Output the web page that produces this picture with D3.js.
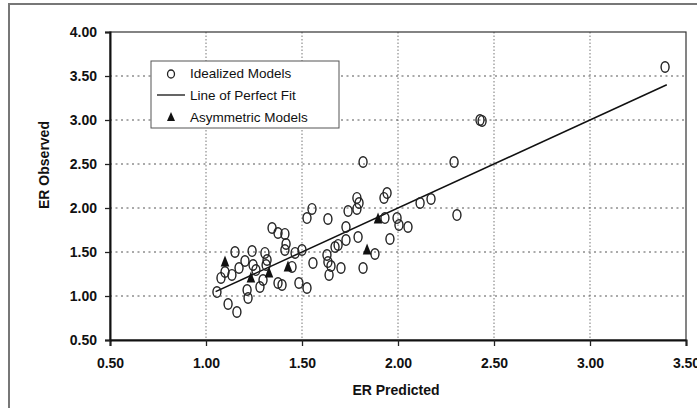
<!DOCTYPE html>
<html lang="en">
<head>
<meta charset="utf-8">
<title>ER Predicted vs Observed</title>
<script src="https://cdn.jsdelivr.net/npm/d3@7"></script>
<style>
  body { margin: 0; background: #fff; }
  text { font-family: Arial, "Liberation Sans", sans-serif; }
</style>
</head>
<body>
<script>
// Idealized models: [ER predicted, ER observed]
var idealized = [
  [1.057, 1.045], [1.115, 0.909], [1.161, 0.818], [1.078, 1.205], [1.099, 1.273],
  [1.135, 1.239], [1.172, 1.318], [1.151, 1.500], [1.203, 1.398], [1.214, 1.068],
  [1.219, 0.977], [1.240, 1.511], [1.245, 1.352], [1.260, 1.295], [1.281, 1.102],
  [1.297, 1.182], [1.307, 1.489], [1.318, 1.409], [1.313, 1.352], [1.344, 1.773],
  [1.375, 1.716], [1.411, 1.705], [1.417, 1.591], [1.411, 1.523], [1.375, 1.148],
  [1.396, 1.125], [1.448, 1.330], [1.464, 1.489], [1.500, 1.523], [1.484, 1.148],
  [1.526, 1.091], [1.526, 1.886], [1.552, 1.989], [1.557, 1.375], [1.635, 1.875],
  [1.630, 1.466], [1.635, 1.386], [1.651, 1.341], [1.641, 1.239], [1.672, 1.557],
  [1.688, 1.580], [1.703, 1.318], [1.729, 1.784], [1.729, 1.636], [1.740, 1.966],
  [1.786, 2.114], [1.797, 2.057], [1.786, 1.989], [1.792, 1.670], [1.818, 1.318],
  [1.818, 2.523], [1.880, 1.477], [1.927, 2.114], [1.943, 2.170], [1.932, 1.886],
  [1.958, 1.648], [1.995, 1.886], [2.005, 1.807], [2.052, 1.784], [2.115, 2.057],
  [2.172, 2.102], [2.307, 1.920], [2.292, 2.523], [2.427, 3.000], [2.438, 2.989],
  [3.391, 3.602]
];

// Asymmetric models
var asymmetric = [
  [1.099, 1.386], [1.234, 1.205], [1.328, 1.261], [1.427, 1.330],
  [1.896, 1.875], [1.839, 1.523]
];

// Line of perfect fit (y = x)
var fitLine = [[1.05, 1.05], [3.40, 3.40]];

var xTicks = [0.5, 1.0, 1.5, 2.0, 2.5, 3.0, 3.5];
var yTicks = [0.5, 1.0, 1.5, 2.0, 2.5, 3.0, 3.5, 4.0];

var w = 697, h = 408;
var margin = { top: 32, right: 11, bottom: 68, left: 110 };
var iw = w - margin.left - margin.right;
var ih = h - margin.top - margin.bottom;

var svg = d3.select("body").append("svg")
  .attr("width", w)
  .attr("height", h);

// outer frame
svg.append("rect")
  .attr("x", 9).attr("y", 4)
  .attr("width", 700).attr("height", 420)
  .attr("fill", "none")
  .attr("stroke", "#777")
  .attr("stroke-width", 2);

var xScale = d3.scaleLinear().domain([0.5, 3.5]).range([0, iw]);
var yScale = d3.scaleLinear().domain([0.5, 4.0]).range([ih, 0]);

var g = svg.append("g")
  .attr("transform", "translate(" + margin.left + "," + margin.top + ")");

// grid
g.selectAll(".vgrid")
  .data(xTicks.slice(1, -1))
  .enter().append("line")
  .attr("x1", function(d) { return xScale(d); })
  .attr("x2", function(d) { return xScale(d); })
  .attr("y1", 0).attr("y2", ih)
  .attr("stroke", "#777")
  .attr("stroke-width", 1)
  .attr("stroke-dasharray", "1.5,2");

g.selectAll(".hgrid")
  .data(yTicks.slice(1, -1))
  .enter().append("line")
  .attr("y1", function(d) { return yScale(d); })
  .attr("y2", function(d) { return yScale(d); })
  .attr("x1", 0).attr("x2", iw)
  .attr("stroke", "#555")
  .attr("stroke-width", 1)
  .attr("stroke-dasharray", "2,3.5");

// plot border: top/right thin
g.append("rect")
  .attr("x", 0).attr("y", 0)
  .attr("width", iw).attr("height", ih)
  .attr("fill", "none")
  .attr("stroke", "#333")
  .attr("stroke-width", 1.2);

// axes
var xAxis = d3.axisBottom(xScale)
  .tickValues(xTicks)
  .tickFormat(d3.format(".2f"))
  .tickSize(6)
  .tickPadding(12);

var yAxis = d3.axisLeft(yScale)
  .tickValues(yTicks)
  .tickFormat(d3.format(".2f"))
  .tickSize(5)
  .tickPadding(8);

var gx = g.append("g")
  .attr("transform", "translate(0," + ih + ")")
  .call(xAxis);

var gy = g.append("g").call(yAxis);

[gx, gy].forEach(function(a) {
  a.select(".domain").attr("stroke", "#111").attr("stroke-width", 2);
  a.selectAll(".tick line").attr("stroke", "#222").attr("stroke-width", 1.3);
  a.selectAll(".tick text")
    .attr("font-family", "Arial, 'Liberation Sans', sans-serif")
    .attr("font-size", "14px")
    .attr("font-weight", "bold")
    .attr("fill", "#111");
});

// axis titles
svg.append("text")
  .attr("x", 396).attr("y", 395)
  .attr("text-anchor", "middle")
  .attr("font-size", "14px")
  .attr("font-weight", "bold")
  .attr("fill", "#111")
  .text("ER  Predicted");

svg.append("text")
  .attr("transform", "translate(49,165) rotate(-90)")
  .attr("text-anchor", "middle")
  .attr("font-size", "14px")
  .attr("font-weight", "bold")
  .attr("fill", "#111")
  .text("ER  Observed");

// line of perfect fit
var line = d3.line()
  .x(function(d) { return xScale(d[0]); })
  .y(function(d) { return yScale(d[1]); });

g.append("path")
  .datum(fitLine)
  .attr("d", line)
  .attr("fill", "none")
  .attr("stroke", "#111")
  .attr("stroke-width", 1.5);

// idealized models: open circles (slightly tall)
g.selectAll(".ideal")
  .data(idealized)
  .enter().append("ellipse")
  .attr("cx", function(d) { return xScale(d[0]); })
  .attr("cy", function(d) { return yScale(d[1]); })
  .attr("rx", 4)
  .attr("ry", 5.3)
  .attr("fill", "none")
  .attr("stroke", "#222")
  .attr("stroke-width", 1.4);

// asymmetric models: filled triangles
var tri = "M0,-6.5L4.3,4.5L-4.3,4.5Z";
g.selectAll(".asym")
  .data(asymmetric)
  .enter().append("path")
  .attr("d", tri)
  .attr("transform", function(d) {
    return "translate(" + xScale(d[0]) + "," + yScale(d[1]) + ")";
  })
  .attr("fill", "#111");

// legend
var lg = svg.append("g");
lg.append("rect")
  .attr("x", 151).attr("y", 61)
  .attr("width", 188).attr("height", 67)
  .attr("fill", "#fff")
  .attr("stroke", "#555")
  .attr("stroke-width", 1);

lg.append("ellipse")
  .attr("cx", 171).attr("cy", 74)
  .attr("rx", 3.5).attr("ry", 4)
  .attr("fill", "none")
  .attr("stroke", "#222")
  .attr("stroke-width", 1.3);

lg.append("line")
  .attr("x1", 157).attr("x2", 185)
  .attr("y1", 95).attr("y2", 95)
  .attr("stroke", "#111")
  .attr("stroke-width", 1.3);

lg.append("path")
  .attr("d", "M0,-5L4,4L-4,4Z")
  .attr("transform", "translate(171,117)")
  .attr("fill", "#111");

var legendLabels = ["Idealized Models", "Line of Perfect Fit", "Asymmetric Models"];
lg.selectAll(".ltext")
  .data(legendLabels)
  .enter().append("text")
  .attr("x", 190)
  .attr("y", function(d, i) { return 78 + i * 22; })
  .attr("font-size", "13.5px")
  .attr("fill", "#111")
  .text(function(d) { return d; });
</script>
</body>
</html>
